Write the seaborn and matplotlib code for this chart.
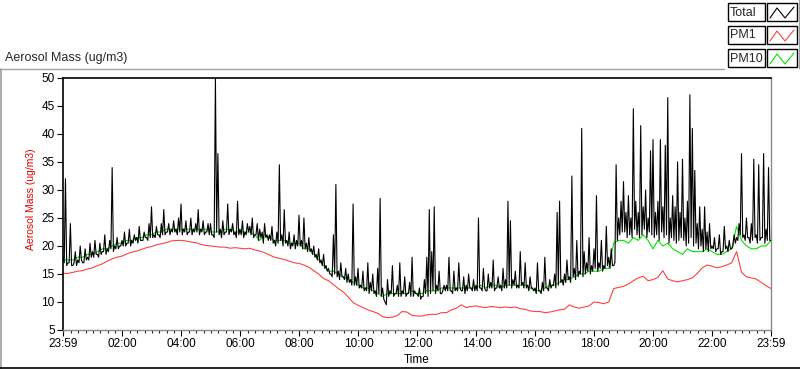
import numpy as np
import pandas as pd
import seaborn as sns
import matplotlib.pyplot as plt
from matplotlib.lines import Line2D
from matplotlib.patches import Rectangle
from matplotlib.ticker import FixedLocator

# minutes after 23:59
# Total: upper readings every 5 min, lower readings in between (2.5 min offset)
total_peaks = [
    18, 32, 17, 24, 16.5, 19, 17.5, 20, 17, 19.5, 18, 20.5,        # 23:59
    19, 21, 18.5, 20.5, 19, 22, 19.5, 21, 34, 20, 21.5, 20,
    21, 22.5, 20.5, 23, 21, 22, 21.5, 23.5, 21, 22.5, 21.5, 24,
    27, 22, 23.5, 22, 24, 26.5, 22.5, 24, 23, 24.5, 23, 25,
    27.5, 23, 24.5, 22.5, 25, 23, 24, 26.5, 23, 24.5, 22.5, 24,    # 04:00
    24, 22, 50, 36.5, 23, 24.5, 22.5, 27.5, 23, 24, 22.5, 28,
    23, 24.5, 22.5, 24, 23.5, 25, 22, 24, 23, 22.5, 24, 22,
    22, 23.5, 21, 22.5, 34.5, 22, 26.5, 21, 22.5, 20.5, 22, 21,
    25.5, 21, 25, 20.5, 21.5, 19.5, 20, 18.5, 19.5, 17.5, 18.5, 16.5,  # 08:00
    16, 15, 22, 31, 15.5, 17, 14.5, 16, 15, 14, 27.5, 14.5,
    16, 13, 15.5, 12.5, 17, 13.5, 15, 12, 16, 28.5, 12.5, 10,
    14, 12, 16.5, 11.5, 13, 17, 12, 14.5, 11.5, 13.5, 18, 12,
    11.5, 12.5, 11, 14, 18, 26.5, 19, 27, 13, 15.5, 11.5, 13,      # 12:00
    13, 18, 12, 15.5, 12.5, 17, 12, 14.5, 13, 15, 12.5, 14,
    13, 25, 12.5, 16, 12, 15, 13.5, 17.5, 12.5, 14.5, 13, 16,
    14, 28, 24.5, 14, 15.5, 13, 19, 13.5, 17, 13, 14.5, 12.5,
    12.5, 17, 12, 13.5, 18, 12.5, 14, 13, 15, 26, 28, 14,          # 16:00
    15, 17.5, 14.5, 32.5, 16, 21, 15.5, 41, 19, 17, 21.5, 16.5,
    19.5, 29, 17, 21, 16.5, 23.5, 18, 19.5, 16.5, 34.5, 25, 28,
    31.5, 26, 29, 25, 44.5, 28, 26, 41.5, 27, 30, 25, 37,
    39, 26, 28, 39, 27, 38, 46.5, 25, 29, 27, 35, 26,              # 20:00
    35.5, 25, 28, 47, 41, 33.5, 24, 27, 23, 27, 22.5, 24,
    20, 21.5, 19.5, 22, 19, 23.5, 20, 21, 19.5, 22, 21.5, 24,
    36.5, 22, 25, 21.5, 24, 35.5, 22, 34.5, 21.5, 36.5, 23, 34,
    21,
]

total_floors = [
    17, 16.5, 17, 16.5, 17, 16.5, 17, 17.5, 17, 17.5, 17.5, 18,    # 23:59
    18, 18.5, 18, 18.5, 19, 18.5, 19, 19.5, 19, 19.5, 19.5, 20,
    20, 20, 20.5, 20, 20.5, 21, 20.5, 21, 21, 21.5, 21, 21.5,
    21.5, 21.5, 22, 21.5, 22, 22, 22.5, 22, 22.5, 22.5, 22, 22.5,
    22, 22.5, 22, 22.5, 22, 22.5, 22.5, 22, 22.5, 22, 22.5, 22,    # 04:00
    22, 21.5, 22.5, 22, 21.5, 22, 22.5, 22, 22.5, 22, 21.5, 22,
    22, 21.5, 22, 22.5, 22, 21.5, 22, 21, 21.5, 20.5, 21.5, 21,
    21, 20.5, 20, 20.5, 21, 20, 20.5, 20, 19.5, 20, 19.5, 20,
    20, 19.5, 19.5, 19, 19, 18.5, 18, 17.5, 17, 16.5, 16, 15.5,    # 08:00
    15, 14.5, 15, 14.5, 14, 14.5, 14, 13.5, 13.5, 13, 13, 13,
    12.5, 12.5, 12, 12, 11.5, 12, 11.5, 11, 11.5, 11, 10.5, 9.5,
    11, 11.5, 11, 11.5, 11, 11, 11.5, 11, 11.5, 11, 11, 11.5,
    11, 10.5, 11, 11.5, 11, 11.5, 12, 11.5, 12, 11.5, 12, 12,      # 12:00
    12, 12, 11.5, 12, 12, 12.5, 12, 11.5, 12, 12.5, 12, 12,
    12, 12.5, 12, 12.5, 12, 12.5, 12.5, 12, 12.5, 12.5, 12, 12.5,
    12.5, 13, 12.5, 13, 12.5, 12.5, 13, 12.5, 12.5, 12, 12.5, 12,
    11.5, 12, 11.5, 12, 12.5, 12, 12.5, 13, 12.5, 13, 13.5, 13,    # 16:00
    13.5, 14, 13.5, 14.5, 14, 14.5, 15, 14.5, 15, 15.5, 15, 15.5,
    16, 15.5, 16, 15.5, 16, 16.5, 16, 16.5, 17, 21, 22, 22.5,
    22.5, 21.5, 22, 21.5, 23, 22, 21.5, 22, 23, 21.5, 22.5, 22,
    21.5, 22, 21, 22.5, 21.5, 22, 20.5, 21.5, 21, 20.5, 21, 21.5,  # 20:00
    21, 20, 20.5, 21.5, 20, 20.5, 19.5, 20, 19, 19.5, 19, 19.5,
    19.5, 19, 19.5, 18.5, 19, 19.5, 19, 19.5, 20, 20.5, 21, 22,
    21.5, 21, 21.5, 20.5, 21, 21.5, 20.5, 21, 21.5, 20.5, 21, 21,
]

# PM10 and PM1 every 10 min
pm10 = [
    17.5, 17.5, 17.5, 18, 18, 18.5,
    18.5, 19, 19.5, 19.5, 20, 20.5,
    20.5, 21, 21, 21.5, 21.5, 22,
    22, 22.5, 22.5, 23, 23, 23,
    23, 23, 23, 23, 23, 23,
    22.5, 22.5, 22.5, 23, 23, 22.5,
    22.5, 22.5, 22.5, 22, 21, 22,
    21.5, 21, 21, 21, 20.5, 20.5,
    20.5, 19.5, 19.5, 18.5, 17.5, 16.5,
    15.5, 15.5, 15, 14.5, 14, 13.5,
    13, 12.5, 12.5, 12, 11.5, 11,
    11.5, 11.5, 11.5, 11.5, 11.5, 12,
    11.5, 11.5, 12, 12, 12, 12.5,
    12.5, 12.5, 12.5, 12.5, 12.5, 12.5,
    12.5, 13, 12.5, 13, 13, 12.5,
    13, 13, 13, 13, 13, 12.5,
    12, 12, 12.5, 13, 13, 13.5,
    14, 14, 14.5, 15, 15, 15.5,
    15.5, 15.5, 16, 16, 20.5, 21,
    21, 20.5, 21.5, 21, 22, 21,
    19.5, 21, 20, 20.5, 19.5, 19,
    18.5, 19.5, 19, 19, 19, 19.5,
    19, 18.5, 18.5, 19, 19.5, 23.5,
    21, 20, 19.5, 19.5, 20, 20,
    21,
]

pm1 = [
    15.1, 15.1, 15.3, 15.5, 15.6, 15.9,
    16.1, 16.5, 16.8, 17.3, 17.7, 18,
    18.2, 18.6, 18.9, 19.1, 19.4, 19.7,
    19.9, 20.2, 20.4, 20.6, 20.9, 21,
    21, 20.9, 20.7, 20.6, 20.3, 20.1,
    20, 19.9, 19.8, 19.8, 19.6, 19.7,
    19.6, 19.5, 19.6, 19.3, 19.1, 18.8,
    18.4, 18.0, 17.8, 17.6, 17.3, 17,
    16.9, 16.6, 16.2, 15.6, 15, 14.2,
    13.8, 13.1, 12.4, 11.8, 10.9, 9.9,
    9.4, 9, 8.6, 8.3, 8, 7.4,
    7.2, 7.3, 7.6, 8.3, 8.2, 7.6,
    7.5, 7.5, 7.7, 7.8, 7.8, 8.1,
    8.1, 8.6, 8.9, 9.5, 9.0, 9.2,
    9.3, 9.1, 9.0, 9.2, 9.1, 9.0,
    9.1, 9.0, 9.1, 8.8, 8.7, 8.4,
    8.3, 8.3, 8.1, 8.2, 8.4, 8.6,
    8.7, 9.5, 9.1, 8.9, 9.1, 9.3,
    10, 9.9, 9.7, 10, 12.4, 12.6,
    12.8, 13.2, 13.8, 14.3, 14.6, 13.8,
    14, 14.4, 15.6, 14.1, 13.8, 13.6,
    13.8, 14, 14.3, 15.1, 16.1, 16.6,
    16.4, 16.1, 16.3, 16.6, 17, 19,
    15.3, 14.5, 14.3, 14.1, 13.5, 12.9,
    12.4,
]

tick_labels = ["23:59", "02:00", "04:00", "06:00", "08:00", "10:00", "12:00",
               "14:00", "16:00", "18:00", "20:00", "22:00", "23:59"]
tick_pos = [0, 121, 241, 361, 481, 601, 721, 841, 961, 1081, 1201, 1321, 1440]

total = [v for pair in zip(total_peaks, total_floors) for v in pair] + [total_peaks[-1]]
df_total = pd.DataFrame({"t": np.arange(len(total)) * 2.5, "v": total})
df_pm10 = pd.DataFrame({"t": np.arange(len(pm10)) * 10, "v": pm10})
df_pm1 = pd.DataFrame({"t": np.arange(len(pm1)) * 10, "v": pm1})

sns.set_style("white")
plt.rcParams["font.family"] = ["Liberation Sans", "DejaVu Sans"]

fig = plt.figure(figsize=(8, 3.69), dpi=100)
ax = fig.add_axes([63 / 800, 1 - 330 / 369, 708 / 800, 252 / 369])

sns.lineplot(data=df_pm1, x="t", y="v", color="#ff4040", lw=0.8, ax=ax, zorder=2)
sns.lineplot(data=df_pm10, x="t", y="v", color="#00e600", lw=0.8, ax=ax, zorder=3)
sns.lineplot(data=df_total, x="t", y="v", color="black", lw=0.8, ax=ax, zorder=4)

ax.set_xlim(0, 1440)
ax.set_ylim(5, 50)
ax.xaxis.set_major_locator(FixedLocator(tick_pos))
ax.set_xticklabels(tick_labels)
ax.xaxis.set_minor_locator(FixedLocator(np.arange(1, 1440, 15)))
ax.set_yticks(np.arange(5, 51, 5))
ax.tick_params(axis="both", which="major", direction="out", length=4, width=0.8,
               labelsize=8.5, colors="black", pad=2, bottom=True, left=True)
ax.tick_params(axis="x", which="minor", direction="out", length=2.5, width=0.8, bottom=True)

for side in ["top", "left"]:
    ax.spines[side].set_color("black")
    ax.spines[side].set_linewidth(1.2)
for side in ["bottom", "right"]:
    ax.spines[side].set_color("#8a8a8a")
    ax.spines[side].set_linewidth(1.0)

ax.set_xlabel("Time", fontsize=8.5, color="black")
ax.xaxis.set_label_coords(0.5, -0.095)
ax.set_ylabel("Aerosol Mass (ug/m3)", fontsize=7.5, color="#e00000")
ax.yaxis.set_label_coords(-0.038, 0.52)

fig.text(5 / 800, 1 - 58 / 369, "Aerosol Mass (ug/m3)", fontsize=9, va="center", ha="left")

# frame around the graph
fig.add_artist(Line2D([0, 724 / 800], [1 - 68.5 / 369] * 2, color="#a0a0a0", lw=1))
fig.add_artist(Line2D([0.6 / 800] * 2, [0, 1 - 68.5 / 369], color="#a0a0a0", lw=1.2))
fig.add_artist(Line2D([0, 1], [1.5 / 369] * 2, color="black", lw=1.2))
fig.add_artist(Line2D([799 / 800] * 2, [1 - 68 / 369, 1], color="#a0a0a0", lw=1))

# legend in the upper right corner
names = ["Total", "PM1", "PM10"]
colors = ["black", "#ff4040", "#00e600"]
for i, (name, c) in enumerate(zip(names, colors)):
    top = 3 + 23 * i
    fig.add_artist(Rectangle((728 / 800, 1 - (top + 18) / 369), 37 / 800, 18 / 369,
                             transform=fig.transFigure, fill=False, ec="black", lw=1))
    fig.add_artist(Rectangle((767 / 800, 1 - (top + 18) / 369), 30 / 800, 18 / 369,
                             transform=fig.transFigure, fill=False, ec="black", lw=1))
    fig.text(730 / 800, 1 - (top + 9.5) / 369, name, fontsize=9, va="center", ha="left")
    zx = np.array([770, 777, 785, 794]) / 800
    zy = 1 - (top + np.array([15, 5, 15, 4])) / 369
    fig.add_artist(Line2D(zx, zy, color=c, lw=0.8))

plt.savefig("out.png", dpi=100)
